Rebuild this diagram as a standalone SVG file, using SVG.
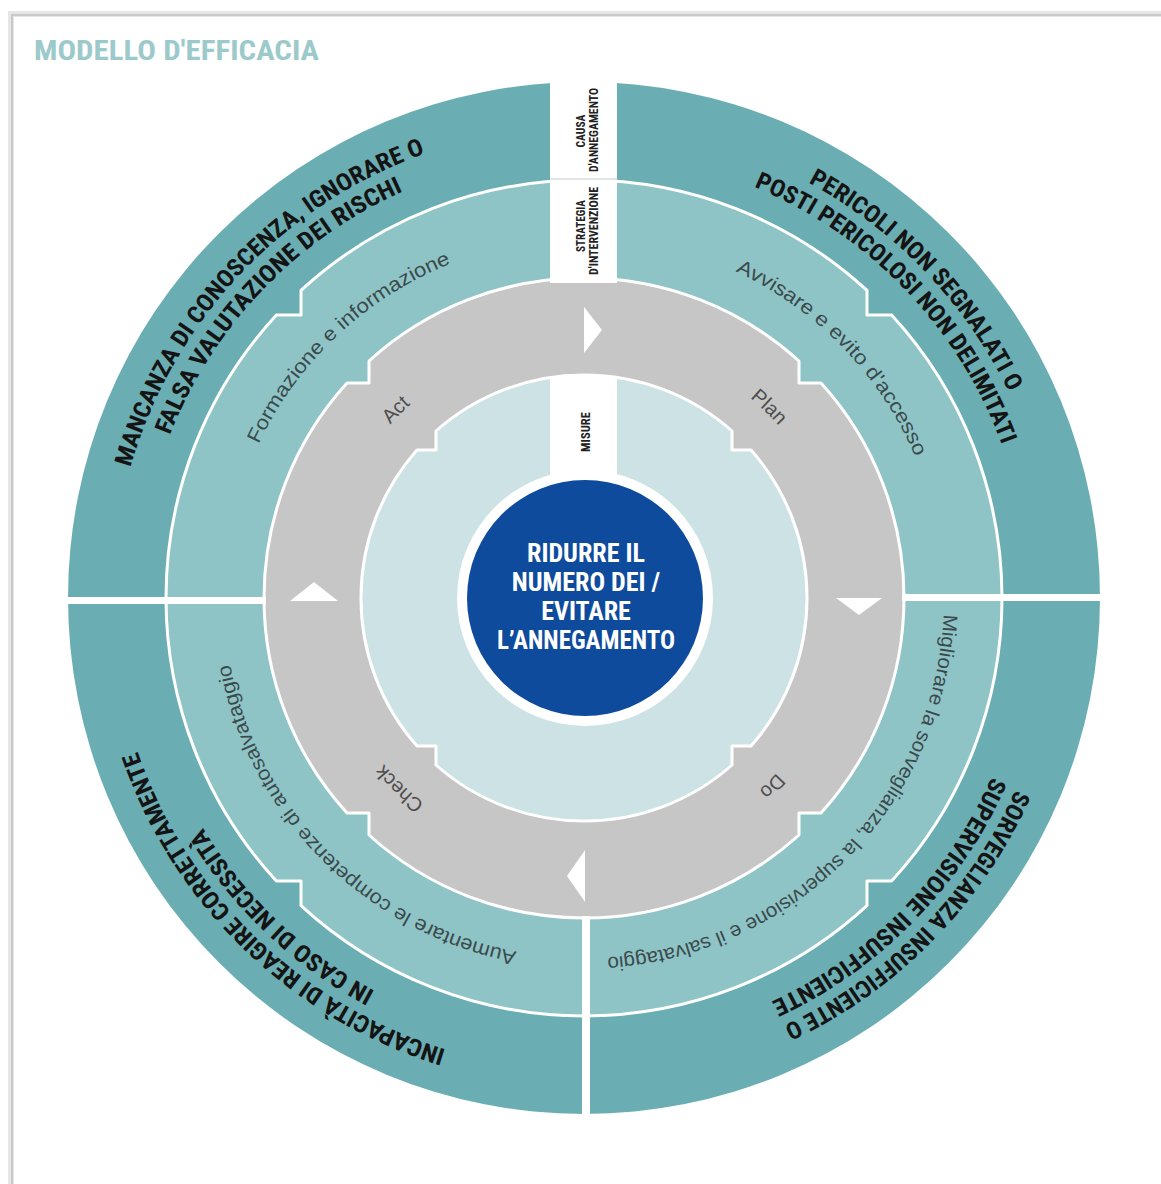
<svg xmlns="http://www.w3.org/2000/svg" width="1161" height="1184" viewBox="0 0 1161 1184">
<style>
.bold{font-family:"Liberation Sans Narrow","Roboto Condensed","DejaVu Sans Condensed","Liberation Sans",sans-serif;font-weight:bold;font-stretch:condensed}
.cause{font-size:24px;fill:#141414}
.strat{font-family:"Liberation Sans",Arial,sans-serif;font-size:20px;fill:#3a4a4c}
.pdca{font-family:"Liberation Sans",Arial,sans-serif;font-size:20px;fill:#4e4e4e}
.col{font-size:12px;fill:#222}
.sep{fill:#fff}
.ringline{stroke:#fff;stroke-width:3;stroke-linejoin:round}
</style>
<defs>
<path id="tlO" d="M 112 598 A 472 472 0 0 1 584 126"/>
<path id="tlI" d="M 139 598 A 445 445 0 0 1 584 153"/>
<path id="trO" d="M 584 126 A 472 472 0 0 1 1056 598"/>
<path id="trI" d="M 584 153 A 445 445 0 0 1 1029 598"/>
<path id="brO" d="M 1056 598 A 472 472 0 0 1 584 1070"/>
<path id="brI" d="M 1029 598 A 445 445 0 0 1 584 1043"/>
<path id="blO" d="M 584 1070 A 472 472 0 0 1 112 598"/>
<path id="blI" d="M 584 1043 A 445 445 0 0 1 139 598"/>
<path id="tlM" d="M 224 598 A 360 360 0 0 1 584 238"/>
<path id="trM" d="M 584 238 A 360 360 0 0 1 944 598"/>
<path id="brM" d="M 944 598 A 360 360 0 0 1 584 958"/>
<path id="blM" d="M 584 958 A 360 360 0 0 1 224 598"/>
<path id="tlP" d="M 324 598 A 260 260 0 0 1 584 338"/>
<path id="trP" d="M 584 338 A 260 260 0 0 1 844 598"/>
<path id="brP" d="M 844 598 A 260 260 0 0 1 584 858"/>
<path id="blP" d="M 584 858 A 260 260 0 0 1 324 598"/>
</defs>
<rect width="1161" height="1184" fill="#fff"/>
<g id="card">
<path d="M 11 1184 V 14 H 1161" fill="none" stroke="#e6e6e6" stroke-width="6"/>
<path d="M 12 1184 V 15 H 1161" fill="none" stroke="#c9c9c9" stroke-width="2"/>
</g>
<text id="title" x="34" y="60" class="bold" font-size="27" fill="#9ccaca" textLength="285" lengthAdjust="spacingAndGlyphs">MODELLO D'EFFICACIA</text>

<g id="rings">
<circle id="outer-ring" cx="584" cy="598" r="516" fill="#6aadb2"/>
<path id="middle-ring" class="ringline" fill="#8fc4c6" d="M 1002 598 A 418 418 0 0 1 891.6 881 L 867 881 L 867 905.6 A 418 418 0 0 1 584 1016 A 418 418 0 0 1 301 905.6 L 301 881 L 276.4 881 A 418 418 0 0 1 166 598 A 418 418 0 0 1 276.4 315 L 301 315 L 301 290.4 A 418 418 0 0 1 584 180 A 418 418 0 0 1 867 290.4 L 867 315 L 891.6 315 A 418 418 0 0 1 1002 598 Z"/>
<path id="pdca-ring" class="ringline" fill="#c6c6c6" d="M 904 598 A 320 320 0 0 1 821 813 L 799 813 L 799 835 A 320 320 0 0 1 584 918 A 320 320 0 0 1 369 835 L 369 813 L 347 813 A 320 320 0 0 1 264 598 A 320 320 0 0 1 347 383 L 369 383 L 369 361 A 320 320 0 0 1 584 278 A 320 320 0 0 1 799 361 L 799 383 L 821 383 A 320 320 0 0 1 904 598 Z"/>
<path id="inner-ring" class="ringline" fill="#cce2e4" d="M 807 598 A 223 223 0 0 1 751 746 L 732 746 L 732 765 A 223 223 0 0 1 584 821 A 223 223 0 0 1 436 765 L 436 746 L 417 746 A 223 223 0 0 1 361 598 A 223 223 0 0 1 417 450 L 436 450 L 436 431 A 223 223 0 0 1 584 375 A 223 223 0 0 1 732 431 L 732 450 L 751 450 A 223 223 0 0 1 807 598 Z"/>
</g>

<g id="separators">
<rect class="sep" x="550" y="78" width="67" height="205"/>
<rect class="sep" x="550" y="376" width="67" height="106"/>
<line x1="550" y1="179" x2="617" y2="179" stroke="#d8dcdc" stroke-width="1.5"/>
<rect class="sep" x="64" y="597" width="202" height="7"/>
<rect class="sep" x="902" y="594" width="202" height="7"/>
<rect class="sep" x="582" y="916" width="8" height="204"/>
</g>

<g id="center">
<circle cx="585" cy="598" r="128" fill="#fff"/>
<circle cx="585" cy="598" r="118" fill="#0f4b9c"/>
<g class="bold" font-size="26" fill="#fff" text-anchor="middle">
<text x="586" y="562">RIDURRE IL</text>
<text x="586" y="591">NUMERO DEI /</text>
<text x="586" y="620">EVITARE</text>
<text x="586" y="649" textLength="178" lengthAdjust="spacingAndGlyphs">L’ANNEGAMENTO</text>
</g>
</g>

<g id="column-labels" class="bold col" text-anchor="middle">
<text transform="translate(585 131) rotate(-90)" textLength="33" lengthAdjust="spacingAndGlyphs">CAUSA</text>
<text transform="translate(598 130) rotate(-90)" textLength="84" lengthAdjust="spacingAndGlyphs">D'ANNEGAMENTO</text>
<text transform="translate(585 226) rotate(-90)" textLength="52" lengthAdjust="spacingAndGlyphs">STRATEGIA</text>
<text transform="translate(598 231) rotate(-90)" textLength="88" lengthAdjust="spacingAndGlyphs">D'INTERVENZIONE</text>
<text transform="translate(590 432) rotate(-90)" textLength="40" lengthAdjust="spacingAndGlyphs">MISURE</text>
</g>

<g id="arrows" fill="#fff">
<polygon points="584,307 602,330 584,353"/>
<polygon points="836,598 882,598 859,615"/>
<polygon points="585,850 567,876 585,902"/>
<polygon points="290,601 338,601 314,582"/>
</g>

<g id="q-tl">
<text class="bold cause" text-anchor="middle"><textPath href="#tlO" startOffset="48%" textLength="447" lengthAdjust="spacingAndGlyphs">MANCANZA DI CONOSCENZA, IGNORARE O</textPath></text>
<text class="bold cause" text-anchor="middle"><textPath href="#tlI" startOffset="48.6%" textLength="346" lengthAdjust="spacingAndGlyphs">FALSA VALUTAZIONE DEI RISCHI</textPath></text>
<text class="strat" text-anchor="middle"><textPath href="#tlM" startOffset="52%" textLength="270" lengthAdjust="spacingAndGlyphs">Formazione e informazione</textPath></text>
<text class="pdca" text-anchor="middle"><textPath href="#tlP" startOffset="50%">Act</textPath></text>
</g>
<g id="q-tr">
<text class="bold cause" text-anchor="middle"><textPath href="#trO" startOffset="51.4%" textLength="295" lengthAdjust="spacingAndGlyphs">PERICOLI NON SEGNALATI O</textPath></text>
<text class="bold cause" text-anchor="middle"><textPath href="#trI" startOffset="51.3%" textLength="368" lengthAdjust="spacingAndGlyphs">POSTI PERICOLOSI NON DELIMITATI</textPath></text>
<text class="strat" text-anchor="middle"><textPath href="#trM" startOffset="51%" textLength="264" lengthAdjust="spacingAndGlyphs">Avvisare e evito d'accesso</textPath></text>
<text class="pdca" text-anchor="middle"><textPath href="#trP" startOffset="49%">Plan</textPath></text>
</g>
<g id="q-br">
<text class="bold cause" text-anchor="middle"><textPath href="#brO" startOffset="49.4%" textLength="338" lengthAdjust="spacingAndGlyphs">SORVEGLIANZA INSUFFICIENTE O</textPath></text>
<text class="bold cause" text-anchor="middle"><textPath href="#brI" startOffset="49.3%" textLength="322" lengthAdjust="spacingAndGlyphs">SUPERVISIONE INSUFFICIENTE</textPath></text>
<text class="strat" text-anchor="middle"><textPath href="#brM" startOffset="49.4%" textLength="526" lengthAdjust="spacingAndGlyphs">Migliorare la sorveglianza, la supervisione e il salvataggio</textPath></text>
<text class="pdca" text-anchor="middle"><textPath href="#brP" startOffset="50%">Do</textPath></text>
</g>
<g id="q-bl">
<text class="bold cause" text-anchor="middle"><textPath href="#blO" startOffset="48.9%" textLength="445" lengthAdjust="spacingAndGlyphs">INCAPACITÀ DI REAGIRE CORRETTAMENTE</textPath></text>
<text class="bold cause" text-anchor="middle"><textPath href="#blI" startOffset="48.3%" textLength="240" lengthAdjust="spacingAndGlyphs">IN CASO DI NECESSITÀ</textPath></text>
<text class="strat" text-anchor="middle"><textPath href="#blM" startOffset="50.1%" textLength="431" lengthAdjust="spacingAndGlyphs">Aumentare le competenze di autosalvataggio</textPath></text>
<text class="pdca" text-anchor="middle"><textPath href="#blP" startOffset="49%">Check</textPath></text>
</g>
</svg>
